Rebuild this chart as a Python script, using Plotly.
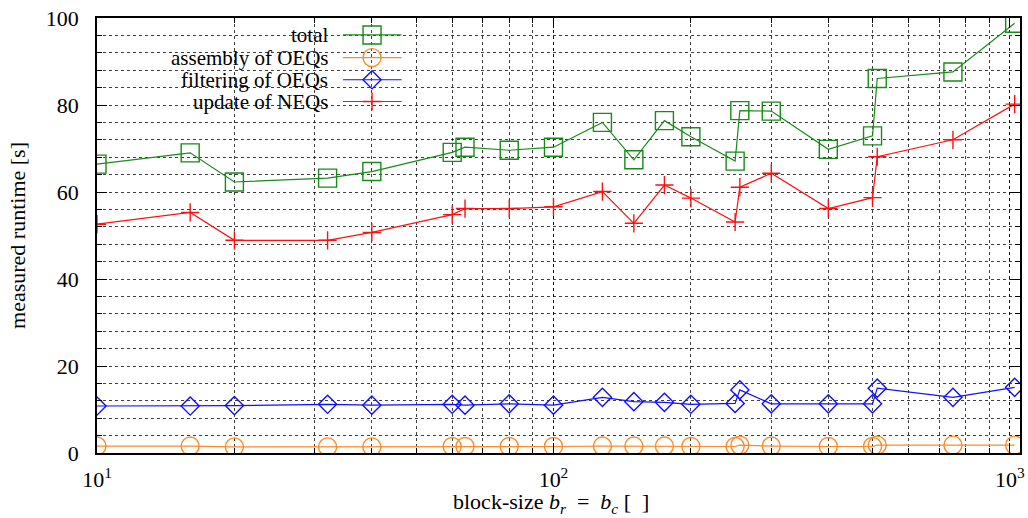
import plotly.graph_objects as go

# block sizes b_r = b_c
block_size = [10, 16, 20, 32, 40, 60, 64, 80, 100, 128, 150, 175, 200, 250, 256,
              300, 400, 500, 512, 750, 1024]

# measured runtimes [s]
total = [66.4, 69.0, 62.3, 63.2, 64.7, 69.1, 70.3, 69.6, 70.3, 76.0, 67.4, 76.4,
         72.7, 67.1, 78.7, 78.6, 69.8, 72.9, 86.1, 87.6, 98.8]
assembly_oeq = [1.6, 1.6, 1.4, 1.4, 1.4, 1.5, 1.5, 1.5, 1.5, 1.6, 1.6, 1.6,
                1.5, 1.5, 1.8, 1.6, 1.5, 1.5, 1.8, 1.8, 1.8]
filtering_oeq = [10.8, 10.8, 10.9, 11.2, 11.0, 11.2, 11.0, 11.3, 11.0, 12.8, 11.8,
                 11.65, 11.2, 11.4, 14.5, 11.3, 11.3, 11.3, 14.9, 12.8, 15.1]
update_neq = [52.6, 55.3, 48.9, 48.9, 50.7, 54.8, 56.2, 56.2, 56.6, 60.1, 52.8, 61.6,
              58.6, 53.1, 61.1, 64.3, 56.2, 58.7, 68.1, 72.0, 80.2]

x_ticks = [10, 100, 1000]
x_tick_text = ["10<sup>1</sup>", "10<sup>2</sup>", "10<sup>3</sup>"]

FONT = "Liberation Serif"
FS = 22

series = [
    ("total", total, "#168c16", "square-open", 18),
    ("assembly of OEQs", assembly_oeq, "#ff8a2a", "circle-open", 18),
    ("filtering of OEQs", filtering_oeq, "#1010ff", "diamond-open", 14),
    ("update of NEQs", update_neq, "#ff1010", "cross-thin-open", 13),
]

fig = go.Figure()
for name, vals, color, symbol, size in series:
    fig.add_trace(go.Scatter(
        x=block_size, y=vals, name=name, mode="lines+markers",
        line=dict(color=color, width=1.2),
        marker=dict(symbol=symbol, size=size, color=color,
                    line=dict(color=color, width=1.4)),
        showlegend=False,
    ))

# key in the upper left corner: text right-aligned, sample to its right
key_rows = [0.961, 0.909, 0.858, 0.808]
for (name, vals, color, symbol, size), ky in zip(series, key_rows):
    fig.add_trace(go.Scatter(
        x=[0.2665, 0.330], y=[ky, ky], xaxis="x2", yaxis="y2",
        mode="lines", line=dict(color=color, width=1.2),
        showlegend=False, hoverinfo="skip",
    ))
    fig.add_trace(go.Scatter(
        x=[0.298], y=[ky], xaxis="x2", yaxis="y2", mode="markers",
        marker=dict(symbol=symbol, size=size, color=color,
                    line=dict(color=color, width=1.4)),
        showlegend=False, hoverinfo="skip",
    ))
    fig.add_annotation(text=name, xref="x2", yref="y2", x=0.2524, y=ky,
                       xanchor="right", yanchor="middle", showarrow=False,
                       font=dict(family=FONT, size=21, color="black"))

# x-axis title, set below the tick labels
fig.add_annotation(
    text="block-size <i>b</i><sub><i>r</i></sub> &nbsp;=&nbsp; "
         "<i>b</i><sub><i>c</i></sub> [&nbsp;&nbsp;]",
    xref="paper", yref="paper", x=0.492, y=-0.114,
    xanchor="center", yanchor="middle", showarrow=False,
    font=dict(family=FONT, size=22, color="black"),
)

grid = dict(gridcolor="rgba(0,0,0,0.75)", griddash="dot", gridwidth=1)

fig.update_layout(
    width=1028, height=518,
    margin=dict(l=97, r=8, t=18, b=65),
    paper_bgcolor="white", plot_bgcolor="white",
    font=dict(family=FONT, size=FS, color="black"),
    xaxis=dict(
        type="log", range=[1, 3.022], automargin=False,
        tickvals=x_ticks, ticktext=x_tick_text,
        ticks="inside", ticklen=10, tickcolor="black",
        showline=True, linecolor="black", linewidth=1.5, mirror="allticks",
        showgrid=True, **grid,
        minor=dict(dtick="D1", ticks="inside", ticklen=5, tickcolor="black",
                   showgrid=True, **grid),
        ticklabelstandoff=6,
        zeroline=False,
    ),
    yaxis=dict(
        range=[0, 100], dtick=20, tick0=0, automargin=False,
        ticks="inside", ticklen=10, tickcolor="black",
        showline=True, linecolor="black", linewidth=1.5, mirror="allticks",
        showgrid=True, **grid,
        minor=dict(dtick=4, ticks="inside", ticklen=5, tickcolor="black",
                   showgrid=True, **grid),
        ticklabelstandoff=12,
        title=dict(text="measured runtime [s]", standoff=14,
                   font=dict(family=FONT, size=FS)),
        zeroline=False,
    ),
    xaxis2=dict(overlaying="x", range=[0, 1], visible=False),
    yaxis2=dict(overlaying="y", range=[0, 1], visible=False),
)

fig.write_html("out.html")
